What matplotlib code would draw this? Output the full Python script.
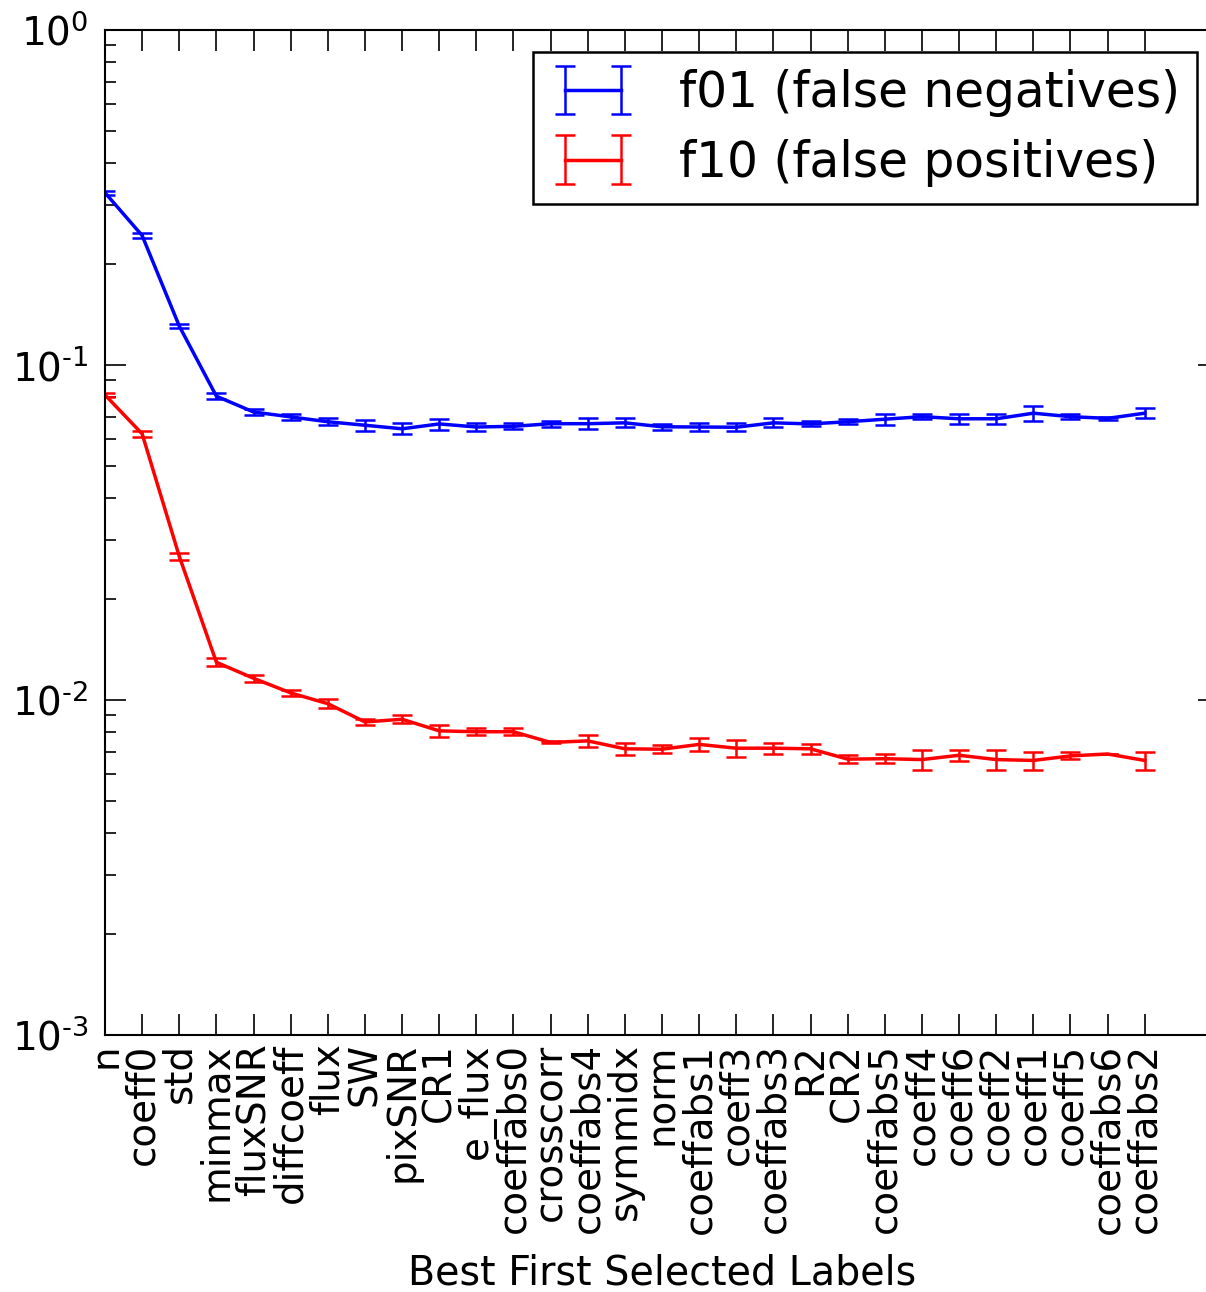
import matplotlib
matplotlib.use("Agg")
import matplotlib.pyplot as plt
import matplotlib.ticker as mticker
import numpy as np

labels = ["n", "coeff0", "std", "minmax", "fluxSNR", "diffcoeff", "flux", "SW",
          "pixSNR", "CR1", "e_flux", "coeffabs0", "crosscorr", "coeffabs4",
          "symmidx", "norm", "coeffabs1", "coeff3", "coeffabs3", "R2", "CR2",
          "coeffabs5", "coeff4", "coeff6", "coeff2", "coeff1", "coeff5",
          "coeffabs6", "coeffabs2"]

f01 = [0.3268, 0.2435, 0.1307, 0.0807, 0.0724, 0.0700, 0.0677, 0.0661,
       0.0645, 0.0667, 0.0653, 0.0656, 0.0668, 0.0668, 0.0672, 0.0654,
       0.0653, 0.0652, 0.0672, 0.0667, 0.0677, 0.0689, 0.0701, 0.0691,
       0.0691, 0.0718, 0.0701, 0.0693, 0.0718]
f01_err = [0.0045, 0.0047, 0.0018, 0.00166, 0.0014, 0.00135, 0.00154, 0.0024,
           0.00244, 0.00252, 0.00166, 0.00135, 0.00138, 0.00253, 0.00208, 0.00148,
           0.00166, 0.00179, 0.00208, 0.00115, 0.00116, 0.00275, 0.0013, 0.00223,
           0.00223, 0.0036, 0.0013, 0.0007, 0.00247]

f10 = [0.0814, 0.0623, 0.02685, 0.01296, 0.01161, 0.0105, 0.00975, 0.0086,
       0.00876, 0.00809, 0.00804, 0.00804, 0.00747, 0.00755, 0.00715, 0.00713,
       0.00737, 0.00718, 0.00718, 0.00715, 0.00666, 0.00668, 0.00664, 0.00684,
       0.00664, 0.0066, 0.00681, 0.0069, 0.0066]
f10_err = [0.00129, 0.00141, 0.00068, 0.000356, 0.000263, 0.000216, 0.000302, 0.000177,
           0.000241, 0.000323, 0.000182, 0.000182, 0.00005, 0.0003, 0.000305, 0.000206,
           0.000314, 0.00041, 0.00028, 0.00023, 0.000192, 0.000207, 0.000443, 0.000249,
           0.000443, 0.0004, 0.000164, 0.00002, 0.0004]

plt.rcParams['font.family'] = ['DejaVu Sans']
plt.rcParams['mathtext.fontset'] = 'dejavusans'

fig = plt.figure(figsize=(12.06, 12.92), dpi=100)
ax = fig.add_axes([105/1206, 1 - 1035/1292, (1219 - 105)/1206, (1035 - 30)/1292])

x = np.arange(len(labels))
ax.errorbar(x, f01, yerr=f01_err, color='#0000ff', lw=2.5, elinewidth=1.8,
            capsize=7, capthick=1.8, label='f01 (false negatives)')
ax.errorbar(x, f10, yerr=f10_err, color='#ff0000', lw=2.5, elinewidth=1.8,
            capsize=7, capthick=1.8, label='f10 (false positives)')

ax.set_yscale('log')
ax.set_ylim(1e-3, 1e0)
ax.set_xlim(0, 30)


def fmt(v, pos):
    e = int(round(np.log10(v)))
    if e < 0:
        return r'$10^{\text{-}%d}$' % (-e)
    return r'$10^{%d}$' % e


ax.yaxis.set_major_formatter(mticker.FuncFormatter(fmt))
ax.set_xticks(x)
ax.set_xticklabels(labels, rotation=90, fontsize=28)
ax.tick_params(axis='x', which='major', direction='in', top=True, bottom=True,
               length=15, width=1.2, pad=6)
ax.tick_params(axis='y', which='major', direction='in', left=True, right=True,
               length=15, width=1.2, pad=12, labelsize=28)
ax.tick_params(axis='y', which='minor', direction='in', left=True, right=True,
               length=8, width=1.2)
ax.tick_params(axis='x', which='minor', bottom=False, top=False)
for s in ax.spines.values():
    s.set_linewidth(1.5)

ax.set_xlabel('Best First Selected Labels', fontsize=28.5, labelpad=14)

leg = ax.legend(loc='upper right', fontsize=35, numpoints=2, fancybox=False,
                shadow=False, framealpha=1, edgecolor='black',
                handlelength=1.75, handletextpad=0.9, borderaxespad=0.45,
                borderpad=0.35, labelspacing=0.45)
leg.get_frame().set_linewidth(1.8)

fig.savefig('out.png', dpi=100)
